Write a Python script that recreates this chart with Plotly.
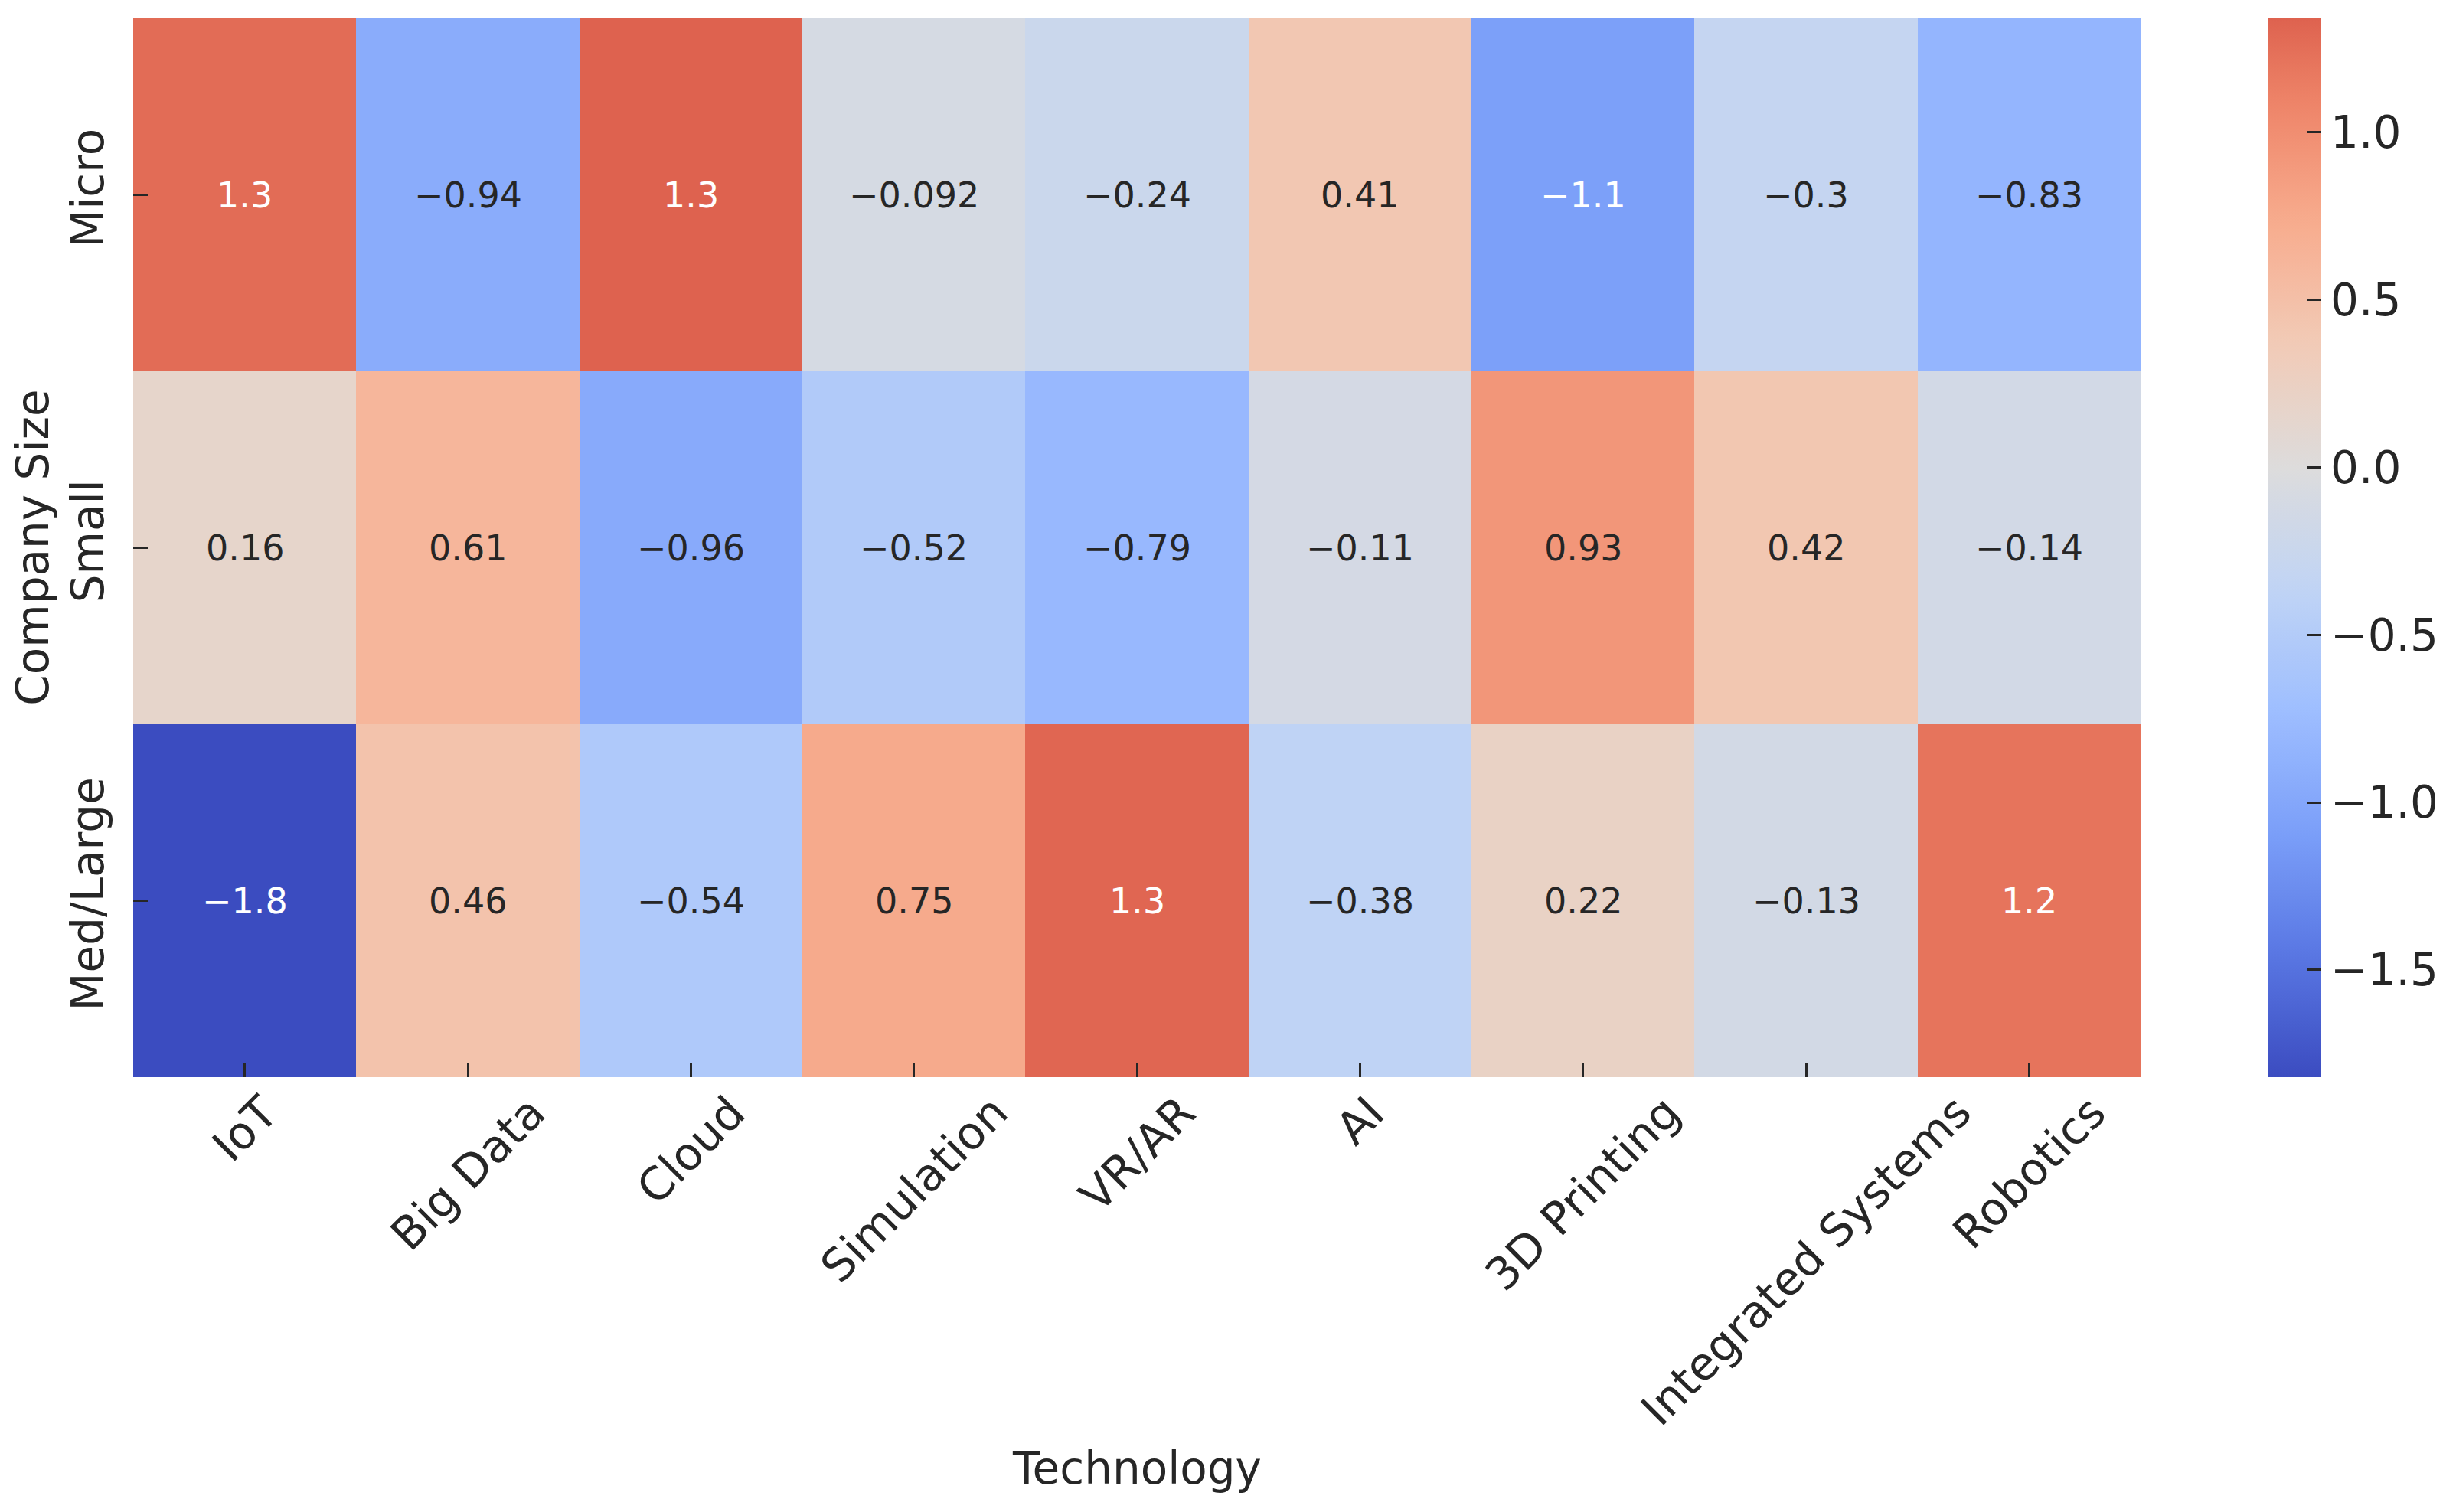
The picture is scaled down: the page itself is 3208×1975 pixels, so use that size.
import plotly.graph_objects as go

technologies = ["IoT", "Big Data", "Cloud", "Simulation", "VR/AR", "AI",
                "3D Printing", "Integrated Systems", "Robotics"]
company_sizes = ["Micro", "Small", "Med/Large"]

micro = [1.27, -0.94, 1.34, -0.092, -0.24, 0.41, -1.08, -0.30, -0.83]
small = [0.16, 0.61, -0.96, -0.52, -0.79, -0.11, 0.93, 0.42, -0.14]
med_large = [-1.82, 0.46, -0.54, 0.75, 1.31, -0.38, 0.22, -0.13, 1.21]

cbar_tickvals = [-1.5, -1.0, -0.5, 0.0, 0.5, 1.0]
cbar_ticktext = ["\u22121.5", "\u22121.0", "\u22120.5", "0.0", "0.5", "1.0"]

z = [micro, small, med_large]

# ---- coolwarm colormap (centered on 0, like seaborn center=0) ----
cw_anchors = ["#3b4cc0", "#5977e3", "#7b9ff9", "#9ebeff", "#c0d4f5", "#dddcdc",
              "#f2cbb7", "#f7ac8e", "#ee8468", "#d65244", "#b40426"]


def hex2rgb(h):
    h = h.lstrip("#")
    return tuple(int(h[i:i + 2], 16) for i in (0, 2, 4))


cw_rgb = [hex2rgb(h) for h in cw_anchors]


def coolwarm(f):
    f = min(max(f, 0.0), 1.0)
    pos = f * (len(cw_rgb) - 1)
    i = min(int(pos), len(cw_rgb) - 2)
    t = pos - i
    a, b = cw_rgb[i], cw_rgb[i + 1]
    return tuple(a[k] + (b[k] - a[k]) * t for k in range(3))


flat = [v for row in z for v in row]
zmin, zmax = min(flat), max(flat)
vrange = max(abs(zmin), abs(zmax))


def color_for(v):
    return coolwarm((v / vrange + 1) / 2)


n = 40
colorscale = []
for i in range(n + 1):
    p = i / n
    v = zmin + p * (zmax - zmin)
    r, g, b = color_for(v)
    colorscale.append([p, "rgb(%d,%d,%d)" % (round(r), round(g), round(b))])


def luminance(rgb):
    out = []
    for c in rgb:
        c = c / 255.0
        out.append(c / 12.92 if c <= 0.03928 else ((c + 0.055) / 1.055) ** 2.4)
    return 0.2126 * out[0] + 0.7152 * out[1] + 0.0722 * out[2]


def fmt(v):
    return format(v, ".2g").replace("-", "\u2212")


FONT = "DejaVu Sans"
DARK = "#262626"
LBL = 58

# page body has an 8px margin -> shift plot area up/left by 8px
L, T, PW, PH = 166, 16, 2627, 1383
W, H = 3208, 1975

fig = go.Figure(go.Heatmap(
    z=z, x=technologies, y=company_sizes,
    zmin=zmin, zmax=zmax, colorscale=colorscale,
    hoverinfo="skip",
    colorbar=dict(
        x=(2967 - 174) / PW, xanchor="left", xpad=0,
        y=0.5, yanchor="middle", ypad=0,
        len=1, lenmode="fraction", thickness=70,
        outlinewidth=0,
        ticks="inside", ticklen=19, tickwidth=3, tickcolor=DARK,
        tickvals=cbar_tickvals, ticktext=cbar_ticktext,
        tickfont=dict(family=FONT, size=LBL, color=DARK),
    ),
))

annotations = []
for ri, size in enumerate(company_sizes):
    for ci, tech in enumerate(technologies):
        v = z[ri][ci]
        col = DARK if luminance(color_for(v)) > 0.408 else "white"
        annotations.append(dict(
            x=tech, y=size, xref="x", yref="y", text=fmt(v), showarrow=False,
            font=dict(family=FONT, size=46, color=col),
        ))

# rotated x tick labels (matplotlib-style centered rotation)
for tech in technologies:
    annotations.append(dict(
        x=tech, y=-0.006, xref="x", yref="paper", text=tech, showarrow=False,
        textangle=-45, xanchor="center", yanchor="top",
        font=dict(family=FONT, size=LBL + 1, color=DARK),
    ))

annotations.append(dict(
    x=0.5, y=(1408 - 1919) / PH, xref="paper", yref="paper", text="Technology",
    showarrow=False, xanchor="center", yanchor="middle",
    font=dict(family=FONT, size=LBL, color=DARK),
))
annotations.append(dict(
    x=(42 - 174) / PW, y=0.5, xref="paper", yref="paper", text="Company Size",
    showarrow=False, xanchor="center", yanchor="middle", textangle=-90,
    font=dict(family=FONT, size=LBL, color=DARK),
))

fig.update_layout(
    width=W, height=H,
    margin=dict(l=L, r=W - L - PW, t=T, b=H - T - PH),
    paper_bgcolor="white", plot_bgcolor="white",
    font=dict(family=FONT, color=DARK),
    annotations=annotations,
    xaxis=dict(
        showticklabels=False, ticks="inside", ticklen=19, tickwidth=3,
        tickcolor=DARK, showgrid=False, zeroline=False, showline=False,
    ),
    yaxis=dict(
        autorange="reversed", tickangle=-90, ticks="inside", ticklen=19,
        tickwidth=3, tickcolor=DARK, showgrid=False, zeroline=False,
        showline=False, ticklabelstandoff=26,
        tickfont=dict(family=FONT, size=LBL, color=DARK),
    ),
)

fig.write_html("out.html")
